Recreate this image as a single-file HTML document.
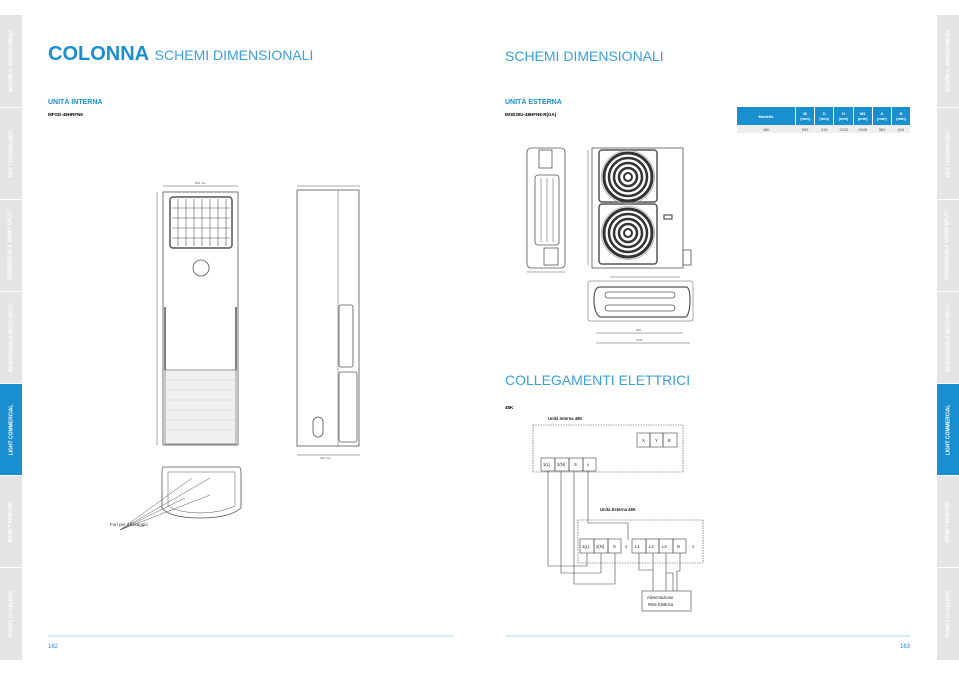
<!DOCTYPE html>
<html><head><meta charset="utf-8"><style>
body{margin:0;width:959px;height:678px;background:#fff;position:relative;overflow:hidden;font-family:"Liberation Sans",sans-serif}
.a{position:absolute}
.tab{position:absolute;width:22px;background:#e4e4e4;border-bottom:1px solid #fff;color:#fff;font-size:5px;font-weight:bold;display:flex;align-items:center;justify-content:center}
.tab span{transform:rotate(-90deg);white-space:nowrap}
.on{background:#1a8fd0}
</style></head><body>
<div class="tab" style="left:0;top:15px;height:92px"><span>SCOPRI IL MONDO MIDEA</span></div>
<div class="tab" style="left:0;top:108px;height:91px"><span>KEY TECHNOLOGY</span></div>
<div class="tab" style="left:0;top:200px;height:91px"><span>RESIDENZIALE MONO SPLIT</span></div>
<div class="tab" style="left:0;top:292px;height:91px"><span>RESIDENZIALE MULTI SPLIT</span></div>
<div class="tab on" style="left:0;top:384px;height:91px"><span>LIGHT COMMERCIAL</span></div>
<div class="tab" style="left:0;top:476px;height:91px"><span>ATOM T MINI-VRF</span></div>
<div class="tab" style="left:0;top:568px;height:92px"><span>POMPE DI CALORE</span></div>
<div class="tab" style="left:937px;top:15px;height:92px"><span>SCOPRI IL MONDO MIDEA</span></div>
<div class="tab" style="left:937px;top:108px;height:91px"><span>KEY TECHNOLOGY</span></div>
<div class="tab" style="left:937px;top:200px;height:91px"><span>RESIDENZIALE MONO SPLIT</span></div>
<div class="tab" style="left:937px;top:292px;height:91px"><span>RESIDENZIALE MULTI SPLIT</span></div>
<div class="tab on" style="left:937px;top:384px;height:91px"><span>LIGHT COMMERCIAL</span></div>
<div class="tab" style="left:937px;top:476px;height:91px"><span>ATOM T MINI-VRF</span></div>
<div class="tab" style="left:937px;top:568px;height:92px"><span>POMPE DI CALORE</span></div>

<div class="a" style="left:48px;top:43px;font-size:20px;color:#1a8fd0;white-space:nowrap"><b>COLONNA</b> <span style="font-size:14px;color:#3aa0da">SCHEMI DIMENSIONALI</span></div>
<div class="a" style="left:505px;top:48px;font-size:14px;color:#3aa0da">SCHEMI DIMENSIONALI</div>
<div class="a" style="left:505px;top:372px;font-size:14px;color:#3aa0da">COLLEGAMENTI ELETTRICI</div>
<div class="a" style="left:48px;top:99px;font-size:7px;font-weight:bold;color:#1a8fd0">UNITÀ INTERNA</div>
<div class="a" style="left:48px;top:112px;font-size:4.5px;font-weight:bold">MFGD-48HRFN8</div>
<div class="a" style="left:505px;top:99px;font-size:7px;font-weight:bold;color:#1a8fd0">UNITÀ ESTERNA</div>
<div class="a" style="left:505px;top:112px;font-size:4.5px;font-weight:bold">MOE30U-48HFN8-R(GA)</div>
<div class="a" style="left:505px;top:405px;font-size:4.5px;font-weight:bold">48K</div>

<table class="a" style="left:737px;top:107px;border-collapse:collapse;font-size:4px;text-align:center;width:173px">
<tr style="background:#1a8fd0;color:#fff;font-weight:bold;height:18px"><td style="width:56px">Modello</td><td style="border-left:1px solid #fff">W<br>(mm)</td><td style="border-left:1px solid #fff">D<br>(mm)</td><td style="border-left:1px solid #fff">H<br>(mm)</td><td style="border-left:1px solid #fff">W1<br>(mm)</td><td style="border-left:1px solid #fff">A<br>(mm)</td><td style="border-left:1px solid #fff">B<br>(mm)</td></tr>
<tr style="background:#eee;color:#555;height:8px"><td>48K</td><td>952</td><td>415</td><td>1333</td><td>1045</td><td>364</td><td>404</td></tr>
</table>

<svg class="a" style="left:0;top:0" width="959" height="678" fill="none" stroke="#555" stroke-width="0.8">
<line x1="163" y1="186" x2="238" y2="186" stroke-width=".5"/>
<text x="195" y="184" font-size="3" fill="#555" stroke="none">629 mm</text>
<line x1="157" y1="192" x2="157" y2="445" stroke-width=".5"/>
<rect x="163" y="192" width="75" height="253"/>
<rect x="170" y="197" width="62" height="51" rx="3" stroke-width="1.5"/>
<g stroke-width=".6"><path d="M178 199V246M186 199V246M194 199V246M202 199V246M210 199V246M218 199V246M226 199V246M172 208H230M172 218H230M172 228H230M172 238H230"/></g>
<circle cx="201" cy="268" r="8"/>
<line x1="165" y1="307" x2="165" y2="370" stroke-width="1.5"/><line x1="236" y1="307" x2="236" y2="370" stroke-width="1.5"/>
<rect x="165" y="370" width="71" height="74" fill="#f0f0f0" stroke-width=".6"/>
<g stroke="#ccc" stroke-width=".5"><path d="M166 380H235M166 390H235M166 400H235M166 410H235M166 420H235M166 430H235"/></g>
<line x1="297" y1="186" x2="360" y2="186" stroke-width=".5"/>
<rect x="297" y="190" width="62" height="256"/>
<line x1="338" y1="190" x2="338" y2="446" stroke-width=".5"/>
<rect x="339" y="305" width="14" height="62" rx="2"/>
<rect x="339" y="372" width="18" height="70" rx="2"/>
<rect x="313" y="417" width="10" height="20" rx="5"/>
<line x1="297" y1="455" x2="360" y2="455" stroke-width=".5"/>
<text x="320" y="459" font-size="3" fill="#555" stroke="none">404 mm</text>
<path d="M163 467H239Q241 467 241 475V508Q230 518 200 518Q170 518 162 508V475Q162 467 163 467Z"/>
<path d="M168 472H235V506Q220 513 200 513Q180 513 168 506Z" stroke-width=".5"/>
<path d="M120 530L185 498M120 530L192 478M120 530L210 478M120 530L210 495" stroke-width=".5"/>
<text x="110" y="526" font-size="4.5" fill="#333" stroke="none">Fori per il fissaggio</text>
<rect x="527" y="148" width="38" height="120" rx="4"/>
<rect x="539" y="150" width="13" height="18"/>
<rect x="535" y="175" width="24" height="70" rx="3"/>
<path d="M541 178V242M547 178V242M553 178V242" stroke-width=".5"/>
<rect x="544" y="248" width="14" height="17"/>
<line x1="527" y1="272" x2="565" y2="272" stroke-width=".5"/>
<rect x="592" y="148" width="91" height="120"/>
<rect x="599" y="150" width="58" height="52" rx="3" stroke-width="1.5"/>
<rect x="599" y="204" width="58" height="60" rx="3" stroke-width="1.5"/>
<g stroke="#333">
<circle cx="628" cy="177" r="24" stroke-width="3"/><circle cx="628" cy="177" r="19" stroke-width="2.5"/><circle cx="628" cy="177" r="14" stroke-width="2.5"/><circle cx="628" cy="177" r="9" stroke-width="2.5"/><circle cx="628" cy="177" r="4" fill="#fff" stroke-width="2"/>
<circle cx="628" cy="233" r="24" stroke-width="3"/><circle cx="628" cy="233" r="19" stroke-width="2.5"/><circle cx="628" cy="233" r="14" stroke-width="2.5"/><circle cx="628" cy="233" r="9" stroke-width="2.5"/><circle cx="628" cy="233" r="4" fill="#fff" stroke-width="2"/>
<circle cx="628" cy="177" r="26.5" stroke="#aaa" stroke-width=".8"/><circle cx="628" cy="233" r="26.5" stroke="#aaa" stroke-width=".8"/>
</g>
<rect x="664" y="215" width="8" height="4" stroke-width="1.2"/>
<rect x="683" y="250" width="8" height="15"/>
<line x1="588" y1="150" x2="588" y2="265" stroke-width=".5"/>
<line x1="610" y1="277" x2="680" y2="277" stroke-width=".5"/>
<rect x="588" y="281" width="105" height="40" rx="2" stroke-width=".5"/>
<path d="M600 287H686Q690 287 690 300Q690 313 686 317H600Q594 313 594 300Q594 287 600 287Z" stroke-width="1.2"/>
<rect x="605" y="292" width="70" height="6" rx="3"/><rect x="605" y="305" width="70" height="6" rx="3"/>
<line x1="596" y1="333" x2="683" y2="333" stroke-width=".5"/>
<line x1="596" y1="343" x2="690" y2="343" stroke-width=".5"/>
<text x="636" y="331" font-size="3" fill="#555" stroke="none">952</text>
<text x="636" y="341" font-size="3" fill="#555" stroke="none">1047</text>
<g stroke="#444" stroke-width=".6">
<rect x="533" y="425" width="150" height="47" stroke-dasharray="1.5 1"/>
<rect x="578" y="520" width="125" height="43" stroke-dasharray="1.5 1"/>
<rect x="637" y="433" width="13" height="14"/><rect x="650" y="433" width="13" height="14"/><rect x="663" y="433" width="14" height="14"/>
<rect x="541" y="458" width="14" height="13"/><rect x="555" y="458" width="14" height="13"/><rect x="569" y="458" width="14" height="13"/><rect x="583" y="458" width="13" height="13"/>
<rect x="580" y="539" width="14" height="14"/><rect x="594" y="539" width="14" height="14"/><rect x="608" y="539" width="13" height="14"/>
<rect x="632" y="539" width="14" height="14"/><rect x="646" y="539" width="13" height="14"/><rect x="659" y="539" width="14" height="14"/><rect x="673" y="539" width="13" height="14"/>
<rect x="642" y="591" width="49" height="20"/>
<path d="M548 471V566H587V553M561 471V573H601V553M574 471V584H615V553M588 471V523H628V540"/>
<path d="M639 553V570H653V591M653 553V570M666 553V573H673V591M680 553V571H677V591M666 573V591"/>
</g>
<g font-size="4.2" fill="#222" stroke="none" font-family="Liberation Sans">
<text x="548" y="420" font-weight="bold">Unità Interna 48K</text>
<text x="600" y="511" font-weight="bold">Unità Esterna 48K</text>
<text x="642" y="442">X</text><text x="655" y="442">Y</text><text x="668" y="442">E</text>
<text x="543" y="466">1(L)</text><text x="557" y="466">2(N)</text><text x="574" y="466">S</text><text x="586" y="466">⏚</text>
<text x="582" y="548">1(L)</text><text x="596" y="548">2(N)</text><text x="613" y="548">S</text><text x="624" y="548">⏚</text>
<text x="635" y="548">L1</text><text x="649" y="548">L2</text><text x="662" y="548">L3</text><text x="677" y="548">N</text><text x="691" y="548">⏚</text>
<text x="647" y="599">Alimentazione</text><text x="648" y="606">Rete Elettrica</text>
</g>
<line x1="48" y1="636" x2="453" y2="636" stroke="#9cc8e6" stroke-width=".8"/>
<line x1="505" y1="636" x2="910" y2="636" stroke="#9cc8e6" stroke-width=".8"/>
<text x="48" y="648" font-size="6" fill="#1a8fd0" stroke="none">162</text>
<text x="900" y="648" font-size="6" fill="#1a8fd0" stroke="none">163</text>
</svg>
</body></html>
